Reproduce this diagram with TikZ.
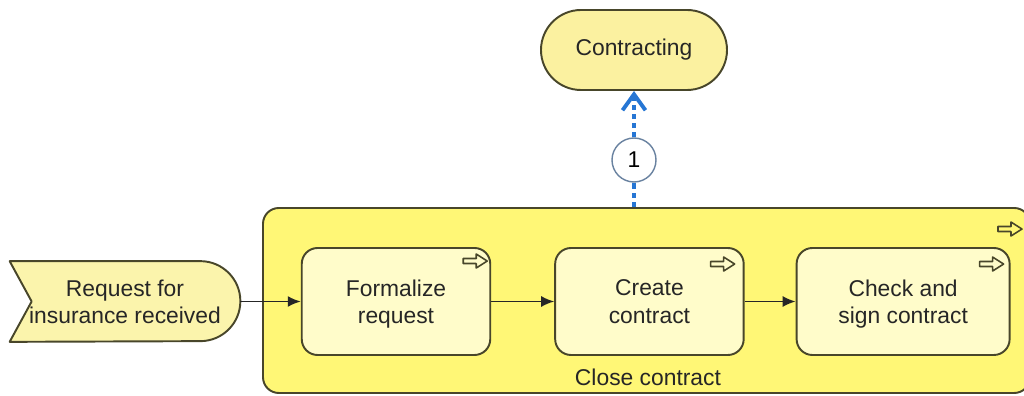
\documentclass[tikz,border=0pt]{standalone}
\usepackage{fontspec}
\setmainfont{Liberation Sans}
\usetikzlibrary{positioning, arrows.meta, backgrounds}

\definecolor{boxline}{RGB}{72,70,42}
\definecolor{procfill}{RGB}{255,247,118}
\definecolor{funcfill}{RGB}{255,252,202}
\definecolor{evfill}{RGB}{251,244,172}
\definecolor{termfill}{RGB}{251,241,160}
\definecolor{linkblue}{RGB}{38,118,212}
\definecolor{ringgray}{RGB}{105,130,160}

\tikzset{
  txt/.style={font=\fontsize{13}{15.5}\selectfont, text=black!85, align=center},
  func/.style={txt, draw=boxline, fill=funcfill, line width=1.1pt, rounded corners=9pt,
    minimum width=37.7mm, minimum height=21.4mm, text depth=-2pt},
  proc/.style={draw=boxline, fill=procfill, line width=1.1pt, rounded corners=9pt,
    minimum width=153.4mm, minimum height=37mm},
  term/.style={txt, draw=boxline, fill=termfill, line width=1.1pt, rounded corners=8mm,
    minimum width=37.2mm, minimum height=16mm},
  flow/.style={draw=black!85, line width=1pt, -{Latex[length=2.6mm, width=2.2mm]}},
  link/.style={draw=linkblue, line width=2.2pt, dash pattern=on 3pt off 2.2pt},
  subproc/.pic={
    \draw[boxline, line width=0.9pt, line join=round]
      (-12,-2.5) -- (1,-2.5) -- (1,-7) -- (12,0) -- (1,7) -- (1,2.5) -- (-12,2.5) -- cycle;
  }
}

\begin{document}
\begin{tikzpicture}[x=0.2mm, y=0.2mm, node distance=12.6mm]
  \useasboundingbox (0,0) rectangle (1024,396);

  % process and its functions
  \node[proc] (cc) at (646.5,95.5) {};
  \node[txt] (ccl) at (648,19) {Close contract};
  \pic at ([shift={(-21,-22)}]cc.north east) {subproc};

  \node[func] (fr) at (396,94.5) {Formalize\\request};
  \node[func, right=of fr] (cr) {Create\\contract};
  \node[func, minimum width=42.6mm, right=10.2mm of cr] (cs) {Check and\\sign contract};

  \pic at ([shift={(-16,-14)}]fr.north east) {subproc};
  \pic at ([shift={(-22,-17)}]cr.north east) {subproc};
  \pic at ([shift={(-19,-17)}]cs.north east) {subproc};

  % start event
  \node[txt, minimum width=46mm, minimum height=16mm] (ev) at (125,94.5) {Request for\\insurance received};
  \begin{scope}[on background layer]
    \draw[boxline, fill=evfill, line width=1.1pt, line join=round]
      (ev.north west) -- ([xshift=-8mm]ev.north east)
      arc[start angle=90, end angle=-90, radius=8mm]
      -- (ev.south west) -- ([xshift=4.4mm]ev.west) -- cycle;
  \end{scope}

  \path[flow] (ev) -- (fr);
  \path[flow] (fr) -- (cr);
  \path[flow] (cr) -- (cs);

  % link to process
  \node[term] (ct) at (634,346) {Contracting};
  \node[circle, draw=ringgray, fill=white, line width=0.8pt, minimum size=8.8mm,
    font=\fontsize{13}{15}\selectfont] (n1) at (634,236) {1};

  \path[link] (cc.north -| n1) -- (n1);
  \path[link, -{Straight Barb[length=3.2mm, width=4.6mm, line width=2.2pt]}] (n1) -- (ct);
\end{tikzpicture}
\end{document}
